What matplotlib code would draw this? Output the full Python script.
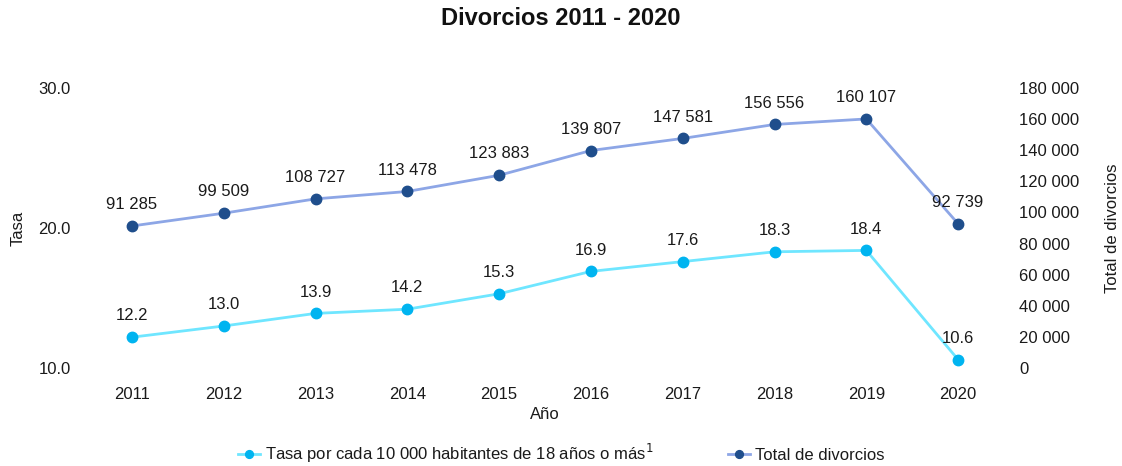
import matplotlib
matplotlib.use("Agg")
import matplotlib.pyplot as plt

plt.rcParams['font.family'] = ['Liberation Sans', 'DejaVu Sans']

years = [2011, 2012, 2013, 2014, 2015, 2016, 2017, 2018, 2019, 2020]
tasa = [12.2, 13.0, 13.9, 14.2, 15.3, 16.9, 17.6, 18.3, 18.4, 10.6]
total = [91285, 99509, 108727, 113478, 123883, 139807, 147581, 156556, 160107, 92739]
left_ticks = [10.0, 20.0, 30.0]
right_ticks = list(range(0, 180001, 20000))

title = "Divorcios 2011 - 2020"
label_tasa = "Tasa por cada 10 000 habitantes de 18 años o más$^{1}$"
label_total = "Total de divorcios"

def fmt_int(v):
    return f"{v:,}".replace(",", " ")

fig = plt.figure(figsize=(11.22, 4.66), dpi=100)
ax = fig.add_axes([86/1122, 98/466, 918/1122, 280/466])
ax2 = ax.twinx()

c_tasa_line = "#6FE6FF"
c_tasa_mk = "#00B4F0"
c_tot_line = "#8DA6E6"
c_tot_mk = "#1F4E8C"
txt = "#1a1a1a"
fs = 12

x = list(range(len(years)))
l1, = ax.plot(x, tasa, color=c_tasa_line, lw=2.0, marker='o', ms=7.5,
              mfc=c_tasa_mk, mec=c_tasa_mk, zorder=3)
l2, = ax2.plot(x, total, color=c_tot_line, lw=2.0, marker='o', ms=7.5,
               mfc=c_tot_mk, mec=c_tot_mk, zorder=3)

for xi, v in zip(x, tasa):
    ax.annotate(f"{v:.1f}", (xi, v), xytext=(0, 10), textcoords='offset points',
                ha='center', va='bottom', fontsize=fs, color=txt)
for xi, v in zip(x, total):
    ax2.annotate(fmt_int(v), (xi, v), xytext=(0, 10), textcoords='offset points',
                 ha='center', va='bottom', fontsize=fs, color=txt)

ax.set_xlim(-0.5, len(years) - 0.5)
ax.set_ylim(10, 30)
ax2.set_ylim(0, 180000)
ax.set_xticks(x)
ax.set_xticklabels([str(y) for y in years])
ax.set_yticks(left_ticks)
ax.set_yticklabels([f"{t:.1f}" for t in left_ticks])
ax2.set_yticks(right_ticks)
ax2.set_yticklabels([fmt_int(t) for t in right_ticks])

for a in (ax, ax2):
    for s in a.spines.values():
        s.set_visible(False)
    a.tick_params(length=0, labelsize=fs, colors=txt)
ax.tick_params(axis='y', pad=11)
ax2.tick_params(axis='y', pad=11)
ax.tick_params(axis='x', pad=14)

ax.set_xlabel("Año", fontsize=fs, labelpad=3, color=txt)
ax.set_ylabel("Tasa", fontsize=fs, labelpad=9, color=txt)
ax2.set_ylabel("Total de divorcios", fontsize=fs, labelpad=18, color=txt)

fig.suptitle(title, fontsize=17, fontweight='bold', y=0.985, color='#111111')

fig.legend([l1, l2], [label_tasa, label_total], loc='lower center',
           bbox_to_anchor=(0.5, -0.03), ncol=2, frameon=False, fontsize=fs,
           handlelength=1.3, handletextpad=0.3, columnspacing=4.5, markerscale=0.75,
           labelcolor=txt)

fig.savefig("out.png", dpi=100)
